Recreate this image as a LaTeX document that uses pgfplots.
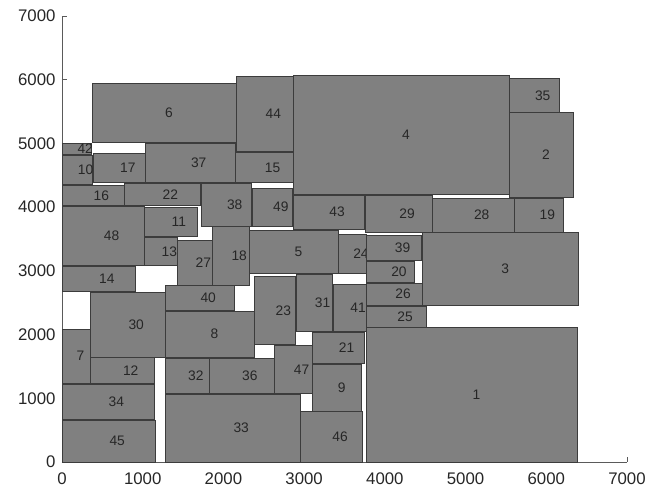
\documentclass[border=0pt]{standalone}
\usepackage{fontspec}
\setmainfont{Liberation Sans}
\usepackage{pgfplots}
\pgfplotsset{compat=1.18}
\definecolor{boxgray}{RGB}{128,128,128}
\definecolor{edgegray}{RGB}{60,60,60}
\definecolor{axgray}{RGB}{90,90,90}
\newcommand{\rect}[5]{%
  \addplot[fill=boxgray, draw=edgegray, line width=0.6pt] coordinates {(#2,#3) (#4,#3) (#4,#5) (#2,#5)} --cycle;
  \node[anchor=west, inner xsep=0.5pt, inner ysep=0pt, text=black!85, font=\fontsize{13.8}{14}\selectfont] at (axis cs:{(#2+#4)/2},{(#3+#5)/2}) {#1};
}
\begin{document}
\begin{tikzpicture}[x=1pt,y=1pt]
\useasboundingbox (-62,-30) rectangle (587,462);
\begin{axis}[
  at={(0,0)}, anchor=south west,
  scale only axis,
  width=565pt, height=446pt,
  xmin=0, xmax=7000, ymin=0, ymax=7000,
  xtick={0,1000,...,7000}, ytick={0,1000,...,7000},
  axis lines=left,
  axis line style={-, draw=axgray, line width=0.6pt},
  tick align=inside,
  major tick length=5pt,
  tick style={draw=axgray, line width=0.6pt},
  /pgf/number format/1000 sep={},
  /pgf/number format/assume math mode=true,
  tick label style={font=\fontsize{16.8}{18}\selectfont, text=black!85},
  xticklabel style={yshift=-7pt},
  yticklabel style={xshift=-3pt},
  clip=false,
]
\rect{1}{3767}{0}{6390}{2108}
\rect{2}{5543}{4155}{6336}{5484}
\rect{3}{4470}{2454}{6398}{3600}
\rect{4}{2866}{4203}{5543}{6075}
\rect{5}{2321}{2962}{3424}{3631}
\rect{6}{375}{5019}{2165}{5945}
\rect{7}{0}{1235}{347}{2088}
\rect{8}{1285}{1643}{2383}{2370}
\rect{9}{3102}{790}{3714}{1534}
\rect{10}{0}{4364}{375}{4819}
\rect{11}{1020}{3537}{1681}{3998}
\rect{12}{356}{1235}{1140}{1637}
\rect{13}{1020}{3093}{1433}{3521}
\rect{14}{0}{2673}{905}{3077}
\rect{15}{2144}{4391}{2866}{4856}
\rect{16}{0}{4024}{768}{4338}
\rect{17}{388}{4391}{1037}{4846}
\rect{18}{1862}{2779}{2321}{3694}
\rect{19}{5605}{3606}{6212}{4140}
\rect{20}{3776}{2815}{4366}{3145}
\rect{21}{3102}{1549}{3742}{2036}
\rect{22}{768}{4024}{1710}{4375}
\rect{23}{2379}{1840}{2896}{2920}
\rect{24}{3424}{2962}{3776}{3574}
\rect{25}{3776}{2114}{4519}{2449}
\rect{26}{3776}{2465}{4470}{2805}
\rect{27}{1433}{2779}{1862}{3485}
\rect{28}{4588}{3606}{5605}{4140}
\rect{29}{3755}{3606}{4588}{4192}
\rect{30}{356}{1643}{1276}{2664}
\rect{31}{2900}{2046}{3349}{2951}
\rect{32}{1285}{1078}{1822}{1627}
\rect{33}{1276}{0}{2958}{1067}
\rect{34}{0}{675}{1140}{1224}
\rect{35}{5543}{5484}{6162}{6023}
\rect{36}{1822}{1078}{2627}{1627}
\rect{37}{1037}{4391}{2144}{5003}
\rect{38}{1722}{3705}{2350}{4375}
\rect{39}{3776}{3160}{4457}{3563}
\rect{40}{1285}{2375}{2131}{2779}
\rect{41}{3362}{2046}{3767}{2794}
\rect{42}{0}{4830}{368}{5003}
\rect{43}{2866}{3653}{3742}{4192}
\rect{44}{2165}{4871}{2866}{6049}
\rect{45}{0}{0}{1161}{659}
\rect{46}{2958}{0}{3726}{790}
\rect{47}{2627}{1078}{3102}{1826}
\rect{48}{0}{3093}{1020}{4008}
\rect{49}{2363}{3705}{2854}{4297}
\end{axis}
\end{tikzpicture}
\end{document}
